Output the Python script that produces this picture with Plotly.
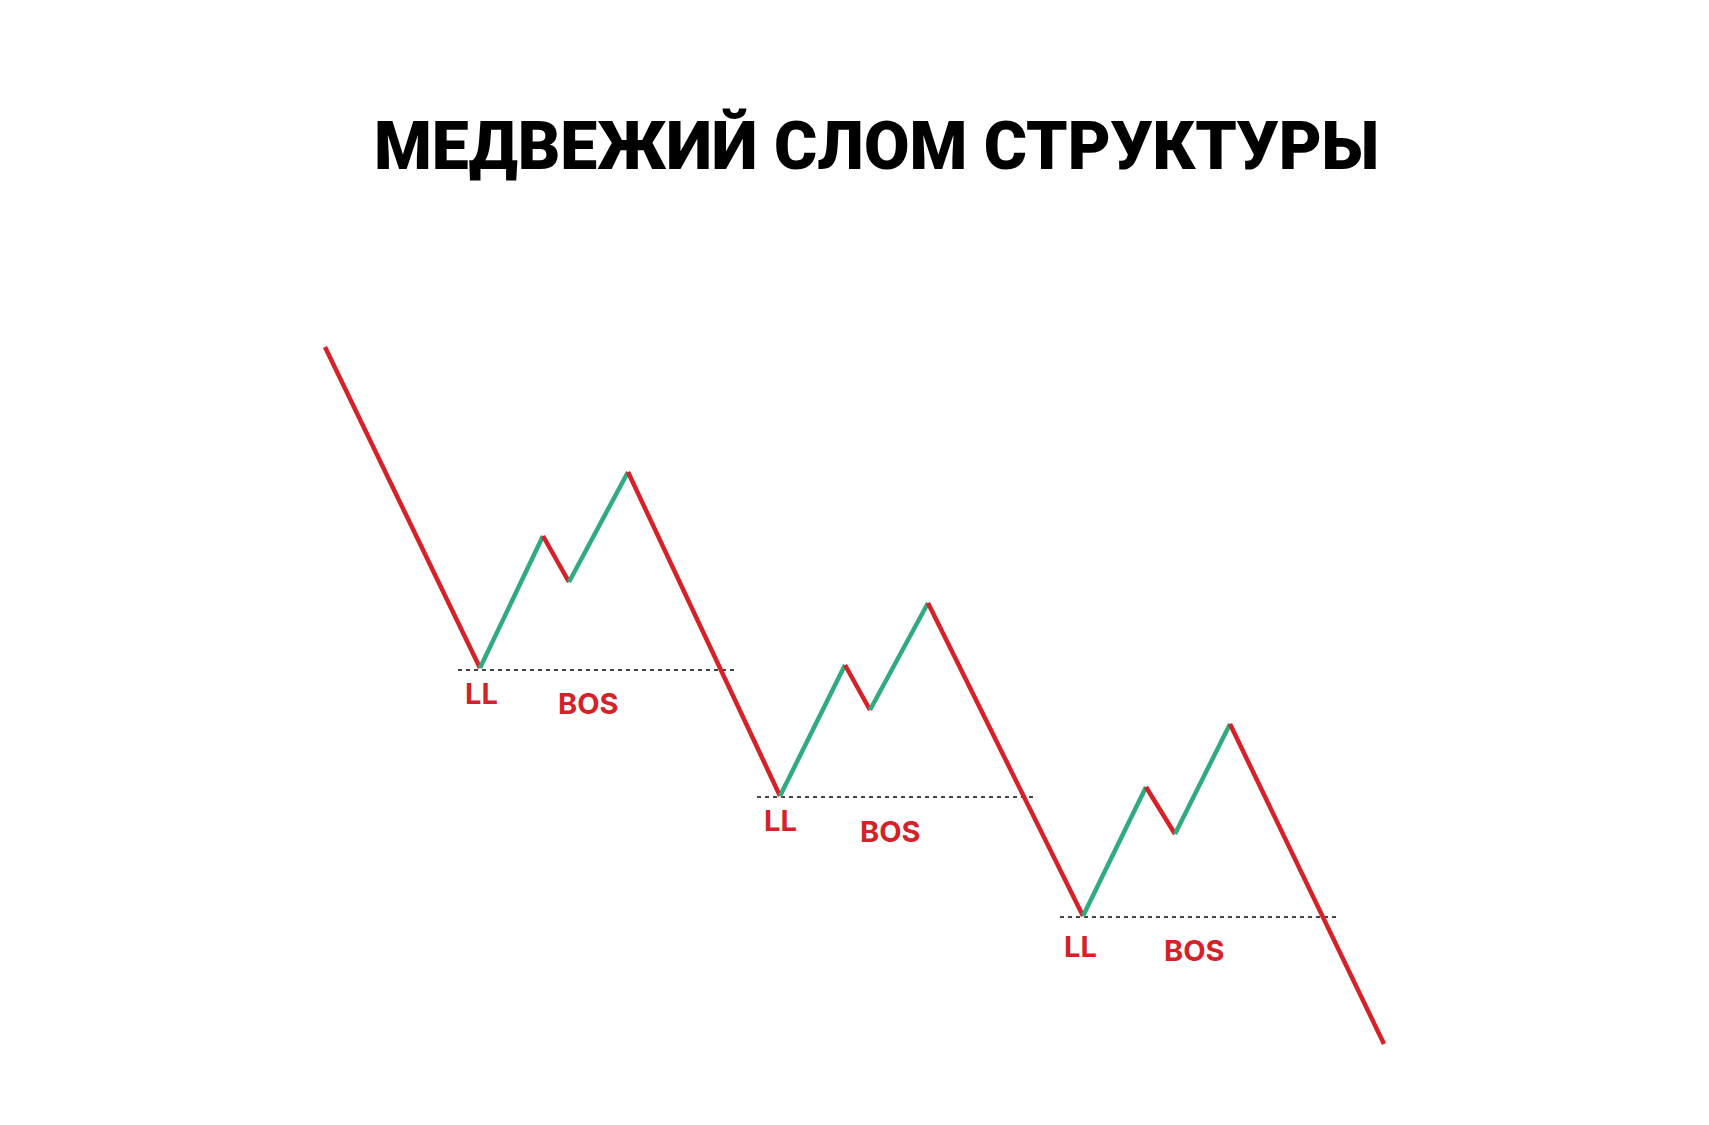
import plotly.graph_objects as go

# swing points of the price path (x = bar position, y = screen level, top = 0)
swing_x = [317, 472, 535, 561, 620, 772, 837, 862, 920, 1075, 1138, 1167, 1222, 1376]
swing_y = [339, 660, 528, 574, 464, 788, 657, 702, 595, 908, 779, 826, 716, 1036]

# broken lows (break of structure levels)
bos_level = [662, 789, 909]
bos_start = [450, 749, 1052]
bos_end = [730, 1028, 1330]

ll_x = [473, 772, 1072]
ll_y = [685, 812, 938]
bos_lbl_x = [580, 882, 1186]
bos_lbl_y = [695, 823, 942]

title = "МЕДВЕЖИЙ СЛОМ СТРУКТУРЫ"

RED = "#d62128"
GREEN = "#2fab7f"

fig = go.Figure()

# dotted levels
for lvl, x0, x1 in zip(bos_level, bos_start, bos_end):
    fig.add_trace(go.Scatter(x=[x0, x1], y=[lvl, lvl], mode="lines",
                             line=dict(color="#444444", width=2.2, dash="4px,4px"),
                             hoverinfo="skip"))

# price path, red when falling, green when rising
for i in range(len(swing_x) - 1):
    col = RED if swing_y[i + 1] > swing_y[i] else GREEN
    fig.add_trace(go.Scatter(x=swing_x[i:i + 2], y=swing_y[i:i + 2], mode="lines",
                             line=dict(color=col, width=4.5), hoverinfo="skip"))

for x, y in zip(ll_x, ll_y):
    fig.add_annotation(x=x, y=y, text="LL", showarrow=False,
                       font=dict(family="Inter", size=29, color=RED, weight=700))
for x, y in zip(bos_lbl_x, bos_lbl_y):
    fig.add_annotation(x=x, y=y, text="BOS", showarrow=False,
                       font=dict(family="Inter", size=29, color=RED, weight=700))

fig.add_annotation(x=868, y=138, text=title, showarrow=False,
                   font=dict(family="Roboto", size=66, color="#000000", weight=900))

fig.update_layout(
    width=1709, height=1125,
    margin=dict(l=0, r=0, t=0, b=0),
    paper_bgcolor="white", plot_bgcolor="white",
    showlegend=False,
    xaxis=dict(range=[0, 1709], visible=False, fixedrange=True),
    yaxis=dict(range=[1125, 0], visible=False, fixedrange=True),
)

fig.write_html("out.html")
